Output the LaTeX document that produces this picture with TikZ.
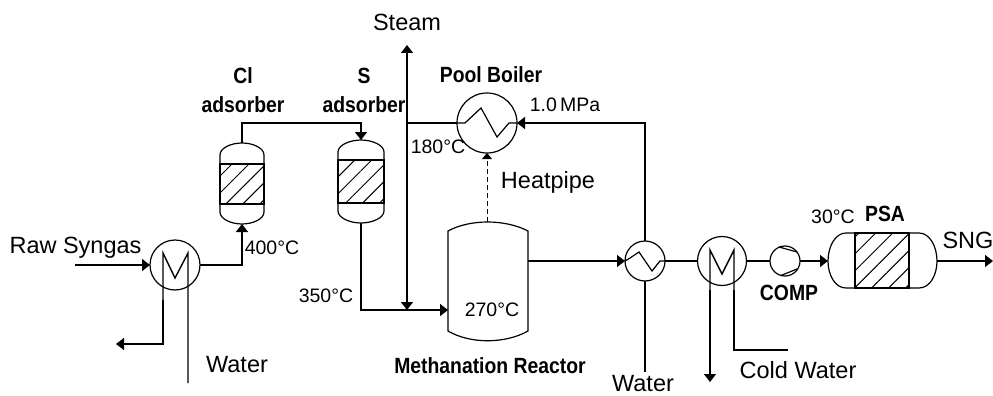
\documentclass[tikz,border=0pt]{standalone}
\usepackage{fontspec}
\setmainfont{Liberation Sans}
\usetikzlibrary{arrows.meta, patterns.meta}
\newcommand{\narrowbold}[2][0.88]{\scalebox{#1}[1]{\bfseries #2}}
\tikzset{
    pipe/.style={line width=1.4pt},
    flow/.style={pipe, -{Triangle[length=8pt, width=12pt]}},
    exchanger/.style={circle, draw, line width=1.2pt, inner sep=0pt, outer sep=0pt, minimum size=#1},
    vessel/.style={line width=1.2pt},
    bed/.style={draw, line width=1.4pt, inner sep=0pt, outer sep=0pt,
        pattern={Lines[angle=45, distance=12pt, line width=1pt]}},
    label/.style={font=\fontsize{23.5}{26}\selectfont, inner sep=0pt},
    temp/.style={font=\fontsize{19.5}{22}\selectfont, inner sep=0pt},
    unit/.style={font=\fontsize{22}{24}\selectfont, inner sep=0pt, align=center}
}
\begin{document}
\begin{tikzpicture}[x=1pt, y=-1pt]
    \useasboundingbox (0, 0) rectangle (993, 396);
    % Heat exchangers
    \node [exchanger=50pt] (preheater) at (175, 265) {};
    \node [exchanger=60pt] (boiler) at (487, 123) {};
    \node [exchanger=40pt] (recuperator) at (645, 261) {};
    \node [exchanger=49pt] (cooler) at (722, 261) {};
    \node [exchanger=30pt] (comp) at (785, 261) {};
    % Tubes inside
    \draw [vessel] (boiler.west) -- (465, 123) -- (481, 108) -- (497, 137) -- (509, 123) -- (boiler.east);
    \draw [vessel] (recuperator.west) -- (630, 258) -- (639, 252) -- (652, 271) -- (660, 261) -- (recuperator.east);
    \draw [pipe] (163, 300) -- (163, 253) -- (175, 278) -- (188, 253) -- (188, 383);
    \draw [pipe] (710, 300) -- (710, 250) -- (722, 274) -- (734, 250) -- (734, 300);
    % Compressor blades
    \draw [vessel] (779, 247) -- (797, 252);
    \draw [vessel] (781, 275.5) -- (797, 269);
    % Cl adsorber
    \draw [vessel] (220, 155) .. controls (220, 148) and (231, 143) .. (242, 143)
        .. controls (253, 143) and (264, 148) .. (264, 155) -- (264, 212)
        .. controls (264, 219) and (253, 224) .. (242, 224)
        .. controls (231, 224) and (220, 219) .. (220, 212) -- cycle;
    \node [bed, minimum width=44pt, minimum height=40pt] (clbed) at (242, 184) {};
    \coordinate (cltop) at (242, 143);
    \coordinate (clbottom) at (242, 224);
    % S adsorber
    \draw [vessel] (338, 152) .. controls (338, 145) and (350, 140) .. (361, 140)
        .. controls (372, 140) and (384, 145) .. (384, 152) -- (384, 211)
        .. controls (384, 218) and (372, 223) .. (361, 223)
        .. controls (350, 223) and (338, 218) .. (338, 211) -- cycle;
    \node [bed, minimum width=46pt, minimum height=43pt] (sbed) at (361, 181.5) {};
    \coordinate (stop) at (361, 140);
    \coordinate (sbottom) at (361, 223);
    % Reactor
    \draw [vessel] (448, 231) .. controls (470, 219) and (505, 219) .. (528, 231) -- (528, 331)
        .. controls (505, 344) and (470, 344) .. (448, 331) -- cycle;
    \coordinate (reactortop) at (487, 222);
    \coordinate (reactorin) at (448, 310);
    \coordinate (reactorout) at (528, 261);
    % PSA
    \draw [vessel] (855, 233) -- (846, 233) .. controls (835, 233) and (828, 247) .. (828, 261)
        .. controls (828, 275) and (835, 288) .. (846, 288) -- (919, 288)
        .. controls (930, 288) and (937, 275) .. (937, 261)
        .. controls (937, 247) and (930, 233) .. (919, 233) -- cycle;
    \node [bed, minimum width=54pt, minimum height=55pt] (psabed) at (882, 260.5) {};
    \coordinate (psain) at (828, 261);
    \coordinate (psaout) at (937, 261);
    % Free ends
    \coordinate (syngas) at (75, 265);
    \coordinate (condensate) at (116, 344);
    \coordinate (steam) at (407, 45);
    \coordinate (steamfoot) at (407, 310);
    \coordinate (steamtap) at (407, 123);
    \coordinate (feedwater) at (645, 372);
    \coordinate (drain) at (710, 382);
    \coordinate (coldwater) at (788, 350);
    \coordinate (sng) at (993, 261);
    % Gas line
    \draw [flow] (syngas) -- (preheater.west);
    \draw [flow] (preheater.east) -| (clbottom);
    \draw [flow] (cltop) |- (300, 123) -| (stop);
    \draw [flow] (sbottom) |- (reactorin);
    \draw [flow] (reactorout) -- (recuperator.west);
    \draw [pipe] (recuperator.east) -- (cooler.west);
    \draw [pipe] (cooler.east) -- (comp.west);
    \draw [flow] (comp.east) -- (psain);
    \draw [flow] (psaout) -- (sng);
    % Water and steam
    \draw [flow] (163, 300) |- (condensate);
    \draw [flow] (steamtap) -- (steam);
    \draw [flow] (steamtap) -- (steamfoot);
    \draw [pipe] (steamtap) -- (boiler.west);
    \draw [flow] (recuperator.north) |- (boiler.east);
    \draw [pipe] (recuperator.south) -- (feedwater);
    \draw [flow] (710, 290) -- (drain);
    \draw [pipe] (734, 290) |- (coldwater);
    % Heat pipe
    \draw [pipe, line width=1pt, dash pattern=on 5pt off 3pt, -{Triangle[length=6pt, width=10pt]}] (reactortop) -- (boiler.south);
    % Labels
    \node [label] at (75.5, 248) {Raw Syngas};
    \node [label] at (237, 365) {Water};
    \node [label] at (407, 22) {Steam};
    \node [label] at (548, 182) {Heatpipe};
    \node [label] at (643, 384) {Water};
    \node [label] at (798, 370) {Cold Water};
    \node [label] at (968, 240) {SNG};
    \node [temp] at (272, 248) {400°C};
    \node [temp] at (326, 296) {350°C};
    \node [temp] at (438, 147) {180°C};
    \node [temp] at (492, 310) {270°C};
    \node [temp] at (565, 105) {1.0\,MPa};
    \node [temp] at (833, 217) {30°C};
    \node [unit] at (243, 90) {\narrowbold{Cl}\\[5pt]\narrowbold{adsorber}};
    \node [unit] at (364, 90) {\narrowbold{S}\\[5pt]\narrowbold{adsorber}};
    \node [unit] at (491, 75) {\narrowbold{Pool Boiler}};
    \node [unit] at (490, 366) {\narrowbold{Methanation Reactor}};
    \node [unit] at (789, 293) {\narrowbold{COMP}};
    \node [unit] at (885, 214) {\narrowbold{PSA}};
\end{tikzpicture}
\end{document}
